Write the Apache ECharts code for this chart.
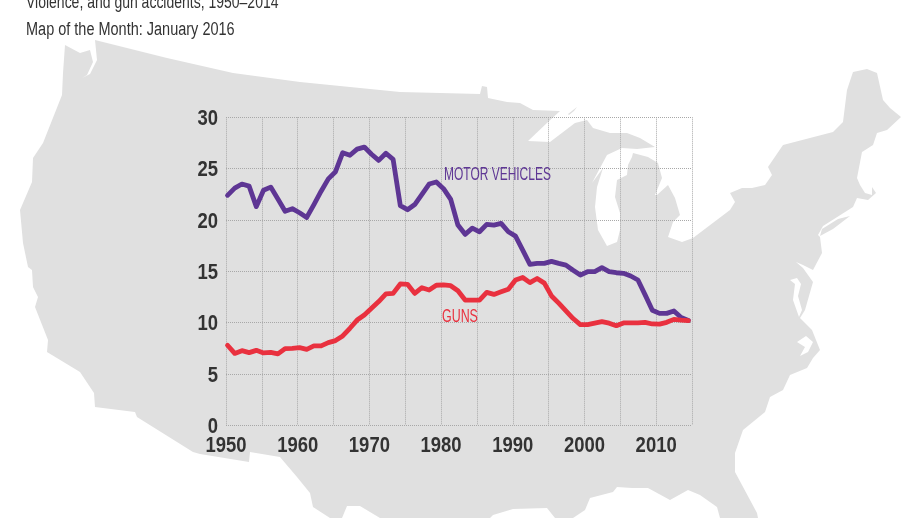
<!DOCTYPE html>
<html>
<head>
<meta charset="utf-8">
<style>html,body{margin:0;padding:0;background:#fff}#c{width:920px;height:518px}</style>
<script src="https://cdn.jsdelivr.net/npm/echarts@6/dist/echarts.min.js"></script>
</head>
<body>
<div id="c"></div>
<script>
const years = [1950,1951,1952,1953,1954,1955,1956,1957,1958,1959,
1960,1961,1962,1963,1964,1965,1966,1967,1968,1969,
1970,1971,1972,1973,1974,1975,1976,1977,1978,1979,
1980,1981,1982,1983,1984,1985,1986,1987,1988,1989,
1990,1991,1992,1993,1994,1995,1996,1997,1998,1999,
2000,2001,2002,2003,2004,2005,2006,2007,2008,2009,
2010,2011,2012,2013,2014];
const motorVehicles = [22.4,23.1,23.5,23.3,21.3,22.9,23.2,22.05,20.85,21.1,
20.7,20.25,21.5,22.8,24.0,24.7,26.55,26.3,26.9,27.1,
26.4,25.8,26.5,25.9,21.4,21.0,21.5,22.5,23.5,23.7,
23.05,22.0,19.5,18.6,19.2,18.85,19.57,19.5,19.67,18.85,
18.43,17.07,15.67,15.77,15.77,15.97,15.77,15.6,15.1,14.63,
14.96,14.96,15.35,14.96,14.86,14.8,14.54,14.15,12.7,11.2,
10.9,10.9,11.13,10.5,10.2];
const guns = [7.8,7.0,7.27,7.08,7.3,7.05,7.1,6.95,7.47,7.5,
7.56,7.4,7.73,7.73,8.05,8.25,8.7,9.45,10.25,10.75,
11.4,12.05,12.8,12.85,13.77,13.73,12.85,13.4,13.18,13.64,
13.67,13.6,13.1,12.2,12.2,12.2,12.95,12.75,13.0,13.25,
14.15,14.4,13.9,14.3,13.85,12.6,11.9,11.15,10.4,9.8,
9.8,9.95,10.1,9.95,9.7,9.97,9.97,9.97,10.03,9.87,
9.85,10.03,10.32,10.25,10.2];
const xTickLabels = [1950,1960,1970,1980,1990,2000,2010];
const yTickLabels = [0,5,10,15,20,25,30];
const subtitleLines = ['Violence, and gun accidents, 1950\u20132014','Map of the Month: January 2016'];
const seriesNames = ['MOTOR VEHICLES','GUNS'];

/* decorative US silhouette behind the chart */
const mapOutline = [[65,45],[80,53],[90,50],[93,62],[87,75],[82,78],[90,74],[97,60],[95,40],
[167,58],[233,73],[300,82],[400,92],[480,94],[482,86],[487,87],[488,98],[507,102],[520,103],[533,110],[560,111],
[548,122],[528,141],[550,142],[575,123],[587,120],[593,128],[610,133],[627,133],[640,138],[655,147],
[637,149],[622,148],[607,155],[600,168],[592,183],[603,168],[597,187],[595,207],[598,230],[607,246],[617,242],[620,230],[620,213],[615,197],[617,180],[627,175],[628,165],[632,157],[633,153],
[648,157],[658,163],[662,178],[655,195],[657,195],[668,185],[675,198],[680,215],[673,222],[668,237],[682,242],[693,238],[730,210],[735,202],[730,193],[742,188],[752,188],[765,185],[772,175],[768,167],[783,145],[833,132],[843,122],[847,90],[853,72],[867,69],[877,73],[883,100],[890,108],[901,117],[887,130],[877,133],[873,145],[862,152],[857,178],[860,185],[865,193],[872,195],[872,187],[876,193],[868,200],[857,198],[853,207],[823,226],[818,235],
[820,237],[822,253],[813,270],[803,265],[796,262],[803,268],[813,282],[805,310],[800,318],[812,330],[820,350],[813,358],[807,368],[790,375],[783,390],[770,397],[765,412],[743,430],[735,453],[735,472],[757,513],[758,518],
[720,518],[717,507],[700,495],[688,490],[670,500],[648,488],[632,488],[617,487],[613,492],[590,498],[585,510],[573,518],
[555,518],[547,508],[513,509],[493,515],[490,518],[380,518],[360,506],[347,506],[342,518],[330,518],[313,507],[310,493],[297,477],[280,457],
[250,452],[249,462],[200,454],[193,452],[137,417],[135,412],[95,407],[94,393],[80,372],[47,352],[48,340],[35,307],[38,297],[33,287],[32,270],[28,267],[23,243],[20,210],[32,182],[33,158],[43,143],[62,95],[63,73]];
const longIsland = [[820,236],[833,229],[850,216],[838,219],[822,229]];
const isleRoyale = [[568,114],[577,107],[574,111],[569,115]];
const chesapeake = [[790,280],[795,284],[793,300],[799,317],[802,310],[798,296],[801,284],[797,278]];
const pamlico = [[797,342],[806,336],[813,342],[808,352],[800,356],[805,347]];
const ff = '"Liberation Sans",sans-serif';
const mapFill = '#e0e0e0';
const textColor = '#333333';
function poly(points, fill){
  return {type:'polygon',z:-10,silent:true,shape:{points},style:{fill,stroke:null}};
}
function label(text,x,y,font,fill,scaleX,align){
  return {type:'text',x,y,scaleX,z:5,silent:true,
    style:{text:String(text),font,fill,align:align||'left',verticalAlign:'middle'}};
}
const grid = {lineStyle:{type:'dotted',color:'#a8a8a8',width:1}};
const chart = echarts.init(document.getElementById('c'),null,{renderer:'canvas'});
chart.setOption({
  animation:false,
  backgroundColor:'#fff',
  grid:{left:226,top:117.3,width:466,height:308,containLabel:false},
  xAxis:[
    {type:'value',min:1950,max:2015,interval:5,
     axisLine:{show:false},axisTick:{show:false},splitLine:Object.assign({show:true},grid),
     axisLabel:{show:false}},
    {type:'value',show:false,min:1949.79,max:2014.51,splitLine:{show:false}}
  ],
  yAxis:{type:'value',min:0,max:30,interval:5,
     axisLine:{show:false},axisTick:{show:false},splitLine:Object.assign({show:true},grid),
     axisLabel:{show:false}},
  series:[
    {name:seriesNames[0],type:'line',xAxisIndex:1,data:years.map((y,i)=>[y,motorVehicles[i]]),
     showSymbol:false,lineStyle:{color:'#5e3694',width:4.8,cap:'round',join:'round'}},
    {name:seriesNames[1],type:'line',xAxisIndex:1,data:years.map((y,i)=>[y,guns[i]]),
     showSymbol:false,lineStyle:{color:'#e9313f',width:4.8,cap:'round',join:'round'}}
  ]
});
const tickFont = 'bold 22px '+ff;
const xBase = chart.convertToPixel({yAxisIndex:0},0);
const yRight = chart.convertToPixel({xAxisIndex:0},1950);
chart.setOption({graphic:[
  poly(mapOutline,mapFill),poly(longIsland,mapFill),poly(isleRoyale,mapFill),
  poly(chesapeake,'#fff'),poly(pamlico,'#fff'),
  label(subtitleLines[0],26,3,'18px '+ff,textColor,0.777),
  label(subtitleLines[1],26,30,'18px '+ff,textColor,0.805),
  label(seriesNames[0],444,175,'18px '+ff,'#5e3694',0.665),
  label(seriesNames[1],442,317,'18px '+ff,'#e9313f',0.69),
  ...xTickLabels.map(v=>label(v,chart.convertToPixel({xAxisIndex:0},v),xBase+21,tickFont,textColor,0.84,'center')),
  ...yTickLabels.map(v=>label(v,yRight-8,chart.convertToPixel({yAxisIndex:0},v)+1.5,tickFont,textColor,0.84,'right'))
]});
</script>
</body>
</html>
